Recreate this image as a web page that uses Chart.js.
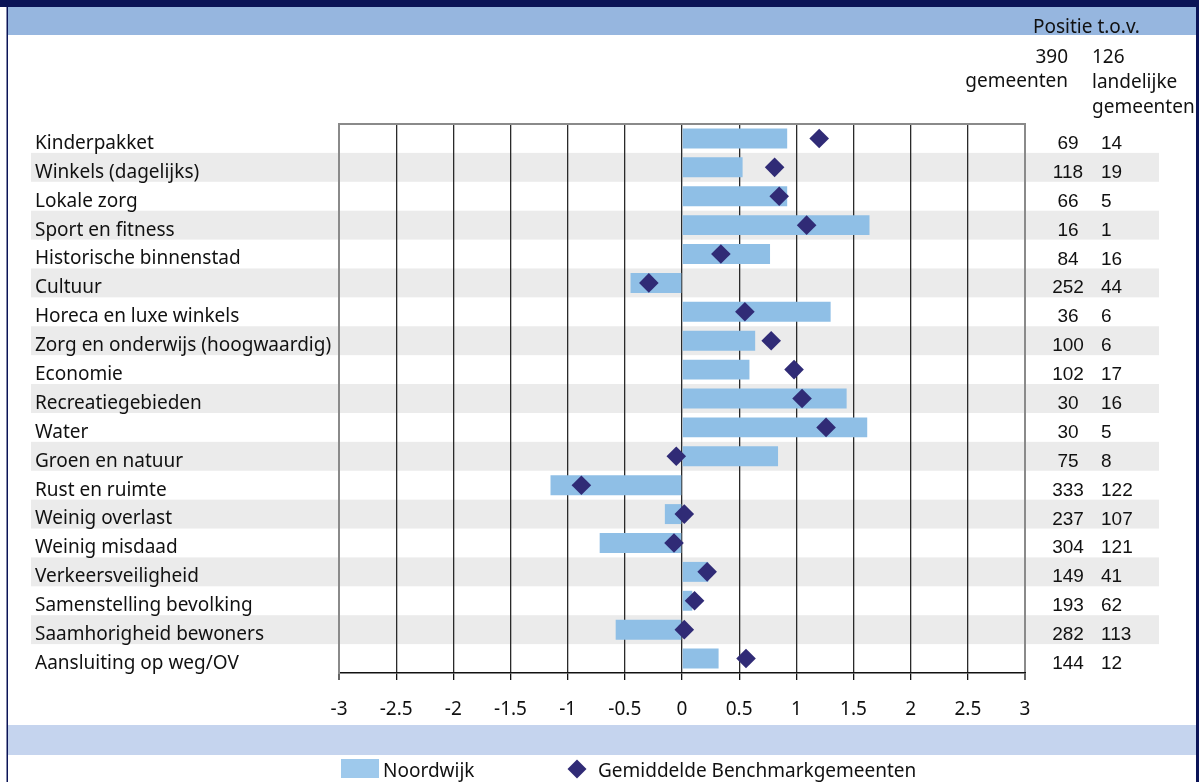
<!DOCTYPE html>
<html>
<head>
<meta charset="utf-8">
<script src="https://cdn.jsdelivr.net/npm/chart.js@4.4.1/dist/chart.umd.min.js"></script>
<style>
  html, body { margin: 0; padding: 0; background: #fff; }
  #wrap { width: 1199px; height: 782px; }
</style>
</head>
<body>
<div id="wrap"><canvas id="chart" width="1199" height="782"></canvas></div>
<script>
const categories = [
  'Kinderpakket', 'Winkels (dagelijks)', 'Lokale zorg', 'Sport en fitness',
  'Historische binnenstad', 'Cultuur', 'Horeca en luxe winkels',
  'Zorg en onderwijs (hoogwaardig)', 'Economie', 'Recreatiegebieden', 'Water',
  'Groen en natuur', 'Rust en ruimte', 'Weinig overlast', 'Weinig misdaad',
  'Verkeersveiligheid', 'Samenstelling bevolking', 'Saamhorigheid bewoners',
  'Aansluiting op weg/OV'
];
const noordwijk = [0.92, 0.53, 0.92, 1.64, 0.77, -0.45, 1.30, 0.64, 0.59, 1.44,
                   1.62, 0.84, -1.15, -0.15, -0.72, 0.23, 0.09, -0.58, 0.32];
const benchmark = [1.20, 0.81, 0.85, 1.09, 0.34, -0.29, 0.55, 0.78, 0.98, 1.05,
                   1.26, -0.05, -0.88, 0.02, -0.07, 0.22, 0.11, 0.02, 0.56];
const rank390 = [69, 118, 66, 16, 84, 252, 36, 100, 102, 30, 30, 75, 333, 237, 304, 149, 193, 282, 144];
const rank126 = [14, 19, 5, 1, 16, 44, 6, 6, 17, 16, 5, 8, 122, 107, 121, 41, 62, 113, 12];
const xMin = -3, xMax = 3, xStep = 0.5;

const NAVY = '#0b1457', BAR = '#8fbfe6', DIAMOND = '#302b76';
const FONT = '"Noto Sans", sans-serif';

function diamond(ctx, cx, cy, r) {
  ctx.beginPath();
  ctx.moveTo(cx, cy - r); ctx.lineTo(cx + r, cy); ctx.lineTo(cx, cy + r); ctx.lineTo(cx - r, cy);
  ctx.closePath(); ctx.fill();
}

const decor = {
  id: 'decor',
  beforeDraw(chart) {
    const { ctx, scales: { y } } = chart;
    const W = chart.width, H = chart.height;
    const rowH = y.getPixelForValue(1) - y.getPixelForValue(0);
    ctx.save();
    ctx.fillStyle = '#ebebeb';
    categories.forEach((c, i) => {
      if (i % 2 === 1) {
        const cy = y.getPixelForValue(i);
        ctx.fillRect(31, cy - rowH / 2, 1159 - 31, rowH);
      }
    });
    ctx.fillStyle = NAVY;  ctx.fillRect(0, 0, W, 7);
    ctx.fillStyle = '#96b6df'; ctx.fillRect(8, 7, 1188, 28);
    ctx.fillStyle = '#c5d4ee'; ctx.fillRect(8, 725, 1188, 30);
    ctx.fillStyle = NAVY;  ctx.fillRect(6.5, 0, 1.5, H); ctx.fillRect(1196, 0, 3, H);
    ctx.restore();
  },
  afterDraw(chart) {
    const { ctx, chartArea: a, scales: { y } } = chart;
    ctx.save();
    // top of the plot frame
    ctx.strokeStyle = '#8a8a8a'; ctx.lineWidth = 2;
    ctx.beginPath(); ctx.moveTo(a.left - 1, a.top); ctx.lineTo(a.right + 1, a.top); ctx.stroke();

    // header of the ranking columns
    ctx.fillStyle = '#111';
    ctx.font = '19px ' + FONT;
    ctx.textBaseline = 'alphabetic';
    ctx.textAlign = 'left';  ctx.fillText('Positie t.o.v.', 1033, 33);
    ctx.textAlign = 'right'; ctx.fillText('390', 1068, 63); ctx.fillText('gemeenten', 1068, 87);
    ctx.textAlign = 'left';  ctx.fillText('126', 1092, 63); ctx.fillText('landelijke', 1092, 88);
    ctx.fillText('gemeenten', 1092, 113);

    // ranking numbers
    ctx.font = '19px "Liberation Sans", Arial, sans-serif';
    categories.forEach((c, i) => {
      const by = y.getPixelForValue(i) + 10.5;
      ctx.textAlign = 'center'; ctx.fillText(String(rank390[i]), 1068, by);
      ctx.textAlign = 'left';   ctx.fillText(String(rank126[i]), 1101, by);
    });

    // legend
    ctx.fillStyle = '#9ec9ec'; ctx.fillRect(341, 759, 38, 19);
    ctx.fillStyle = DIAMOND; diamond(ctx, 577, 769, 9.5);
    ctx.fillStyle = '#111'; ctx.font = '19px ' + FONT; ctx.textAlign = 'left';
    ctx.fillText('Noordwijk', 383, 777);
    ctx.fillText('Gemiddelde Benchmarkgemeenten', 598, 777);
    ctx.restore();
  }
};

new Chart(document.getElementById('chart'), {
  type: 'bar',
  data: {
    labels: categories,
    datasets: [
      { type: 'line', label: 'Gemiddelde Benchmarkgemeenten', data: benchmark, indexAxis: 'y',
        showLine: false, pointStyle: 'rectRot', pointRadius: 9.8, pointHoverRadius: 9.8,
        pointBackgroundColor: DIAMOND, pointBorderWidth: 0, borderColor: DIAMOND, order: 0 },
      { label: 'Noordwijk', data: noordwijk, backgroundColor: BAR, borderWidth: 0,
        barPercentage: 0.69, categoryPercentage: 1, order: 1 }
    ]
  },
  options: {
    indexAxis: 'y',
    responsive: false,
    animation: false,
    events: [],
    layout: { padding: { left: 35, right: 174, top: 124, bottom: 59 } },
    plugins: { legend: { display: false }, tooltip: { enabled: false } },
    scales: {
      x: {
        min: xMin, max: xMax,
        afterFit: s => { s.height = 50; },
        ticks: { stepSize: xStep, padding: 18, color: '#111', font: { family: FONT, size: 19 },
                 callback: v => String(v) },
        grid: {
          color: c => (c.tick && (c.tick.value === xMin || c.tick.value === xMax)) ? '#8a8a8a' : '#2a2a2a',
          lineWidth: c => (c.tick && (c.tick.value === xMin || c.tick.value === xMax)) ? 2 : 1.3,
          tickLength: 7, tickColor: '#111', tickWidth: 1.3
        },
        border: { display: true, color: '#111', width: 1.6 }
      },
      y: {
        afterFit: s => { s.width = 304; },
        ticks: { crossAlign: 'far', labelOffset: 5, color: '#111', font: { family: FONT, size: 19 } },
        grid: { display: false },
        border: { display: true, color: '#8a8a8a', width: 2 }
      }
    }
  },
  plugins: [decor]
});
</script>
</body>
</html>
